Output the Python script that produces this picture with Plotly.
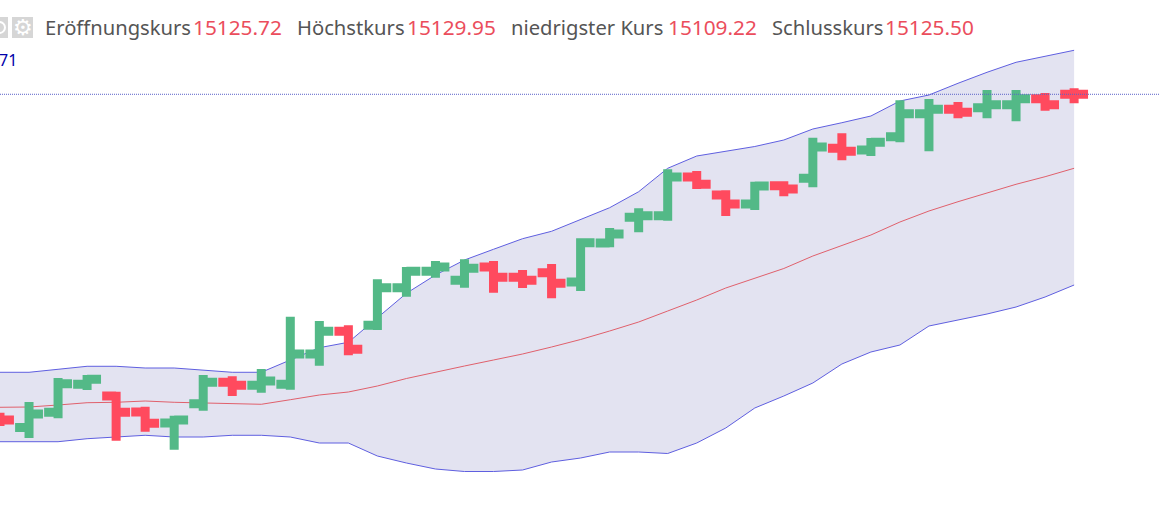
import plotly.graph_objects as go

index = list(range(-1, 37))
open_ = [14672.3,14659.0,14680.3,14719.5,14703.1,14680.7,14665.3,14692.3,14722.3,14718.1,14719.5,14761.9,14793.7,14802.1,14854.7,14877.7,14865.1,14883.7,14869.3,14875.7,14862.7,14917.3,14953.3,14955.5,15009.7,14984.5,14971.9,14997.5,15007.9,15049.9,15047.5,15066.1,15098.3,15104.5,15106.7,15110.9,15119.3,15125.72]
high = [14679.7,14694.7,14728.3,14732.5,14709.1,14688.1,14675.5,14732.5,14730.7,14740.9,14814.1,14808.1,14802.1,14866.5,14883.7,14892.1,14894.5,14892.1,14879.5,14887.9,14923.9,14938.3,14965.9,15020.5,15018.1,14991.1,15003.1,15003.7,15064.7,15070.9,15064.3,15117.1,15118.9,15114.7,15131.5,15131.5,15127.3,15133.9]
low = [14661.1,14644.3,14671.9,14711.5,14640.5,14653.1,14627.9,14682.5,14703.1,14707.7,14711.9,14745.5,14760.1,14795.5,14842.1,14868.7,14854.7,14847.7,14854.3,14839.9,14850.1,14911.3,14932.3,14948.5,14992.9,14955.1,14963.5,14982.7,14995.3,15033.1,15039.1,15058.3,15045.7,15091.9,15091.9,15087.7,15102.5,15112.9]
close = [14669.5,14677.9,14720.3,14726.5,14680.3,14664.9,14669.5,14722.3,14718.1,14724.1,14761.9,14793.7,14768.5,14854.7,14877.7,14883.7,14881.9,14869.3,14865.1,14860.9,14917.7,14929.9,14955.5,15009.7,14999.5,14971.9,14997.1,14992.9,15051.7,15045.7,15058.3,15098.3,15104.5,15100.3,15110.9,15119.3,15110.9,15125.50]
band_upper = [14736.3,14736.3,14740.5,14744.7,14744.7,14742.3,14742.3,14739.5,14736.3,14736.3,14753.5,14770.7,14778.3,14812.3,14846.9,14872.5,14893.5,14908.5,14923.3,14933.7,14950.5,14966.7,14989.1,15021.9,15039.1,15046.1,15052.4,15061.5,15076.9,15085.7,15095.1,15116.1,15124.5,15140.9,15156.3,15170.3,15179.1,15187.1]
band_mid = [14687.3,14687.7,14690.5,14693.7,14694.3,14696.1,14694.3,14693.3,14691.5,14691.5,14697.9,14704.5,14708.7,14717.1,14727.6,14736.7,14745.1,14753.5,14761.9,14771.7,14782.2,14794.1,14806.7,14822.1,14837.5,14854.3,14868.3,14881.6,14899.1,14913.5,14928.5,14946.7,14962.1,14975.1,14986.9,14999.5,15010.1,15021.9]
band_lower = [14639.1,14639.1,14639.1,14643.3,14645.7,14648.1,14645.7,14645.7,14648.1,14648.1,14645.7,14637.3,14637.3,14619.1,14609.3,14600.9,14597.4,14597.4,14599.5,14610.7,14616.3,14624.7,14624.7,14622.6,14637.3,14658.3,14686.3,14703.1,14721.3,14747.9,14764.7,14774.5,14801.1,14809.5,14817.9,14827.7,14841.7,14858.5]

header_labels = ["Eröffnungskurs", "Höchstkurs", "niedrigster Kurs", "Schlusskurs"]
header_values = ["15125.72", "15129.95", "15109.22", "15125.50"]
clipped_value = "71"

W, H = 1160, 511
GREEN, RED = "#53B987", "#FF4A5E"
BLUE, MID = "#5F5FE0", "#E0606C"
Y_RANGE = [14542.1, 15257.5]

fig = go.Figure()
fig.add_trace(go.Scatter(x=index, y=band_upper, mode="lines", line=dict(color=BLUE, width=1), hoverinfo="skip"))
fig.add_trace(go.Scatter(x=index, y=band_lower, mode="lines", line=dict(color=BLUE, width=1), fill="tonexty",
                         fillcolor="#E3E3F1", hoverinfo="skip"))
fig.add_trace(go.Scatter(x=index, y=band_mid, mode="lines", line=dict(color=MID, width=1), hoverinfo="skip"))
fig.add_trace(go.Ohlc(x=index, open=open_, high=high, low=low, close=close, tickwidth=0.48, yaxis="y2",
                      increasing=dict(line=dict(color=GREEN, width=9)),
                      decreasing=dict(line=dict(color=RED, width=9))))
fig.add_trace(go.Scatter(x=[index[0], 39], y=[close[-1], close[-1]], mode="lines", yaxis="y2",
                         line=dict(color="#5B62C8", width=1, dash="1px,1px"), hoverinfo="skip"))

label_x = [45, 297, 511, 772]
value_x = [193, 407, 668, 885]
FONT = "Noto Sans"
for text, px in zip(header_labels, label_x):
    fig.add_annotation(x=px / W, y=1 - 27 / H, xref="paper", yref="paper", xanchor="left", yanchor="middle",
                       text=text, showarrow=False, xshift=-2, font=dict(family=FONT, size=20.2, color="#555555"))
for text, px in zip(header_values, value_x):
    fig.add_annotation(x=px / W, y=1 - 27 / H, xref="paper", yref="paper", xanchor="left", yanchor="middle",
                       text=text, showarrow=False, xshift=-2, font=dict(family=FONT, size=20.8, color="#EB4D5C"))
fig.add_annotation(x=17 / W, y=1 - 60 / H, xref="paper", yref="paper", xanchor="right", yanchor="middle",
                   text=clipped_value, showarrow=False, xshift=2, font=dict(family=FONT, size=16, color="#0000AA"))

# toolbar icons
for x0, x1 in [(-13, 8), (12, 33)]:
    fig.add_shape(type="rect", xref="paper", yref="paper", x0=x0 / W, x1=x1 / W, y0=1 - 38 / H, y1=1 - 17 / H,
                  fillcolor="#D6D6D6", line_width=0, layer="above")
fig.add_shape(type="circle", xref="paper", yref="paper", x0=-6 / W, x1=5 / W, y0=1 - 33 / H, y1=1 - 22 / H,
              fillcolor="#D6D6D6", line=dict(color="#FFFFFF", width=2), layer="above")
fig.add_annotation(x=22.5 / W, y=1 - 27.5 / H, xref="paper", yref="paper", xanchor="center", yanchor="middle",
                   text="<b>⚙</b>", showarrow=False, font=dict(family="DejaVu Sans", size=22, color="#FFFFFF"))

fig.update_layout(
    width=W, height=H, margin=dict(l=0, r=0, t=0, b=0), showlegend=False,
    paper_bgcolor="#FFFFFF", plot_bgcolor="#FFFFFF",
    xaxis=dict(range=[-1, -1 + W / 29.03], visible=False, rangeslider=dict(visible=False)),
    yaxis=dict(range=Y_RANGE, visible=False),
    yaxis2=dict(range=Y_RANGE, visible=False, overlaying="y"),
)
fig.write_html("out.html", config={"displayModeBar": False},
               post_script="document.body.style.margin='0';")
